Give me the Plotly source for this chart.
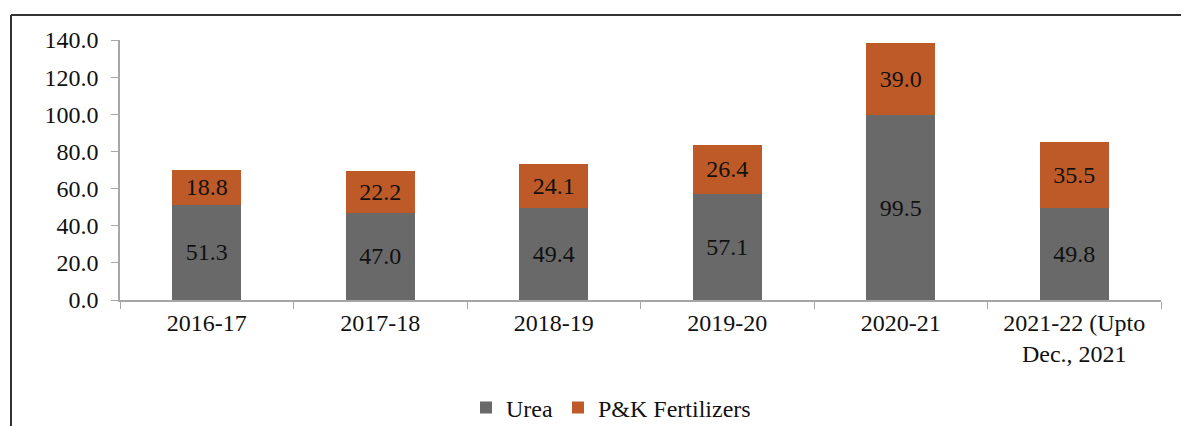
import plotly.graph_objects as go

categories = ["2016-17", "2017-18", "2018-19", "2019-20", "2020-21", "2021-22 (Upto<br>Dec., 2021"]
urea = [51.3, 47.0, 49.4, 57.1, 99.5, 49.8]
pk = [18.8, 22.2, 24.1, 26.4, 39.0, 35.5]
y_ticks = [0, 20, 40, 60, 80, 100, 120, 140]

FONT = "Liberation Serif"
FS = 24
# page is shown with an 8px offset; extra height leaves room for the legend
W, H = 1189, 446
OFF = 8
L, R, T = 112, 36, 32
B = H - (300 - OFF)
PW, PH = W - L - R, H - T - B

def px_x(p):
    return (p - OFF - L) / PW

def px_y(p):
    return (H - B - (p - OFF)) / PH

fig = go.Figure()
fig.add_trace(go.Bar(
    name="Urea", x=categories, y=urea, marker_color="#696969",
    marker_line_width=0,
    text=[f"{v:.1f}" for v in urea], textposition="inside",
    insidetextanchor="middle", textfont=dict(family=FONT, size=FS, color="#111111"),
))
fig.add_trace(go.Bar(
    name="P&K Fertilizers", x=categories, y=pk, marker_color="#BE5A27",
    marker_line_width=0,
    text=[f"{v:.1f}" for v in pk], textposition="inside",
    insidetextanchor="middle", textfont=dict(family=FONT, size=FS, color="#111111"),
))

fig.update_layout(
    barmode="stack", bargap=0.6,
    width=W, height=H,
    margin=dict(l=L, r=R, t=T, b=B),
    paper_bgcolor="white", plot_bgcolor="white",
    font=dict(family=FONT, size=FS, color="#111111"),
    showlegend=True,
    legend=dict(orientation="h", x=px_x(611), xanchor="center", y=px_y(408), yanchor="middle",
                font=dict(family=FONT, size=FS), itemwidth=30, traceorder="normal"),
)
fig.update_xaxes(
    showline=True, linecolor="#A6A6A6", linewidth=1.5,
    ticks="outside", tickson="boundaries", ticklen=7, tickcolor="#A6A6A6",
    showgrid=False, tickfont=dict(family=FONT, size=FS),
)
fig.update_yaxes(
    range=[0, 140], tickvals=y_ticks, ticktext=[f"{v:.1f}" for v in y_ticks],
    showline=True, linecolor="#A6A6A6", linewidth=1.5,
    ticks="outside", ticklen=7, tickcolor="#A6A6A6", ticklabelstandoff=8,
    showgrid=False, zeroline=False, tickfont=dict(family=FONT, size=FS),
)

# outer frame (left and top lines)
fig.add_shape(type="line", xref="paper", yref="paper",
              x0=px_x(11), x1=px_x(W + 20), y0=px_y(15), y1=px_y(15),
              line=dict(color="#333333", width=2))
fig.add_shape(type="line", xref="paper", yref="paper",
              x0=px_x(11), x1=px_x(11), y0=px_y(15), y1=px_y(H + 20),
              line=dict(color="#333333", width=2))

fig.write_html("out.html")
